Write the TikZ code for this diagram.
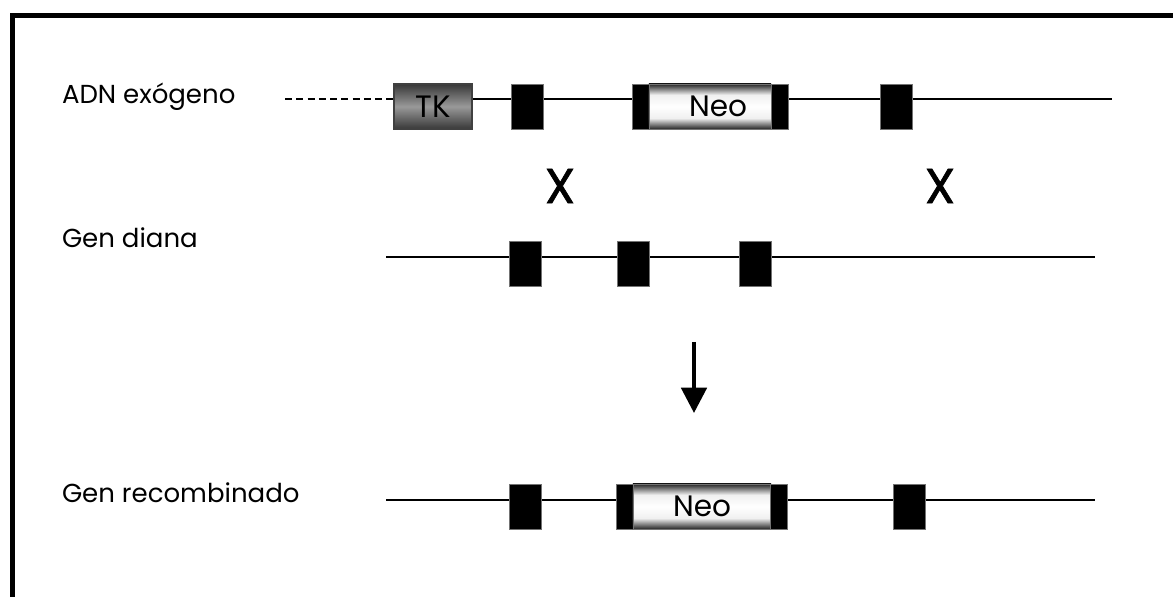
\documentclass[tikz,border=0pt]{standalone}
\usepackage{fontspec}
\setmainfont{Poppins}
\newfontfamily\crossfont{Poppins}[FakeBold=1.3]
\usetikzlibrary{arrows.meta,positioning}

% grey band of the TK cassette and the light band of the Neo cassette
\pgfdeclareverticalshading{tkshade}{100bp}{color(0bp)=(black!78); color(25bp)=(black!78); color(50bp)=(black!40); color(75bp)=(black!78); color(100bp)=(black!78)}
\pgfdeclareverticalshading{neoshade}{100bp}{color(0bp)=(black!85); color(25bp)=(black!85); color(37bp)=(black!6); color(50bp)=(white); color(63bp)=(black!6); color(75bp)=(black!85); color(100bp)=(black!85)}

\begin{document}
\begin{tikzpicture}[x=0.025cm,y=-0.025cm,
  every node/.style={inner sep=0pt,outer sep=0pt},
  lbl/.style={anchor=base west,font=\fontsize{18.5}{21}\selectfont},
  exon/.style={draw=black!55,line width=0.5pt,fill=black,minimum width=0.8cm,minimum height=1.125cm},
  endcap/.style={exon,minimum width=0.425cm},
  tkbox/.style={draw=black!75,line width=0.8pt,shading=tkshade,minimum width=1.95cm,minimum height=1.125cm,font=\fontsize{22}{24}\selectfont},
  neobox/.style={draw=black!55,line width=0.5pt,shading=neoshade,minimum height=1.125cm,font=\fontsize{21}{23}\selectfont},
  dna/.style={line width=1.4pt},
  cross/.style={font=\fontsize{35}{37}\crossfont},
  arr/.style={-{Triangle[length=18pt,width=18pt]},line width=2.8pt}]
\useasboundingbox (0,0) rectangle (1173,597);
% frame
\draw[line width=4pt] (12.5,597) -- (12.5,15.5) -- (1173,15.5);

% exogenous DNA
\node[lbl] (adn) at (62,104) {ADN exógeno};
\coordinate (a0) at (285,99);
\coordinate (a1) at (472,99);
\coordinate (a9) at (1112,99);
\draw[dna] (a1) -- (a9);
\node[tkbox] (tk) at (433,106.5) {TK};
\draw[dna,dash pattern=on 5pt off 3pt] (a0) -- (tk.west |- a0);
\node[exon] (e11) at (527,106.5) {};
\node[endcap] (n1l) at (640.5,106.5) {};
\node[neobox,minimum width=3.05cm] (neo1) at (710,106.5) {\hspace{0.4cm}Neo};
\node[endcap] (n1r) at (779.5,106.5) {};
\node[exon] (e13) at (896.5,106.5) {};

% crossover points
\node[cross] (x1) at (560,186) {X};
\node[cross] (x2) at (940,186) {X};

% target gene
\node[lbl] (diana) at (62,248) {Gen diana};
\coordinate (b0) at (386,257);
\coordinate (b9) at (1095,257);
\draw[dna] (b0) -- (b9);
\node[exon] (e21) at (525,264) {};
\node[exon] (e22) at (633,264) {};
\node[exon] (e23) at (755.5,264) {};

\coordinate (arrtop) at (694,342);
\coordinate (arrtip) at (694,413);
\draw[arr] (arrtop) -- (arrtip);

% recombined gene
\node[lbl] (recomb) at (62,502) {Gen recombinado};
\coordinate (c0) at (386,500);
\coordinate (c9) at (1095,500);
\draw[dna] (c0) -- (c9);
\node[exon] (e31) at (525,506.5) {};
\node[endcap] (n3l) at (625,506.5) {};
\node[neobox,minimum width=3.45cm] (neo3) at (702,506.5) {Neo};
\node[endcap] (n3r) at (779,506.5) {};
\node[exon] (e33) at (909.5,506.5) {};
\end{tikzpicture}
\end{document}
